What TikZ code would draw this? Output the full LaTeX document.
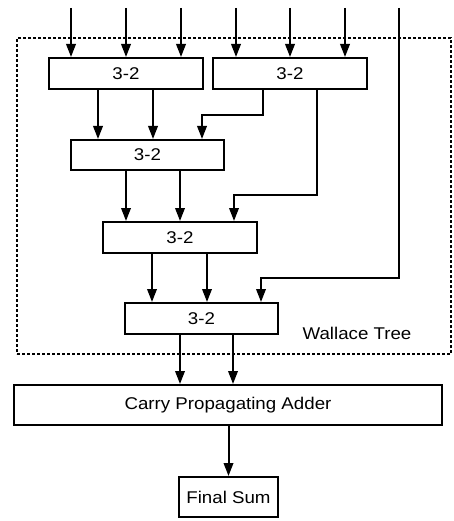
\documentclass[tikz,border=0pt]{standalone}
\usepackage{fontspec}
\setmainfont{Liberation Sans}[FakeStretch=1.1]
\usetikzlibrary{arrows.meta}
\begin{document}
\begin{tikzpicture}[x=1pt,y=-1pt,
  box/.style={draw,line width=2pt,rectangle,inner sep=0pt,font=\fontsize{17}{20}\selectfont},
  arr/.style={line width=2pt,-{Triangle[length=13pt,width=9.5pt]}},
  frame/.style={line width=1.7pt,dash pattern=on 3pt off 2pt}]
\useasboundingbox (0,0) rectangle (454,521);
% frame
\node[frame,draw,rectangle,inner sep=0pt,minimum width=434pt,minimum height=316pt] (wt) at (234,196) {};
\node[font=\fontsize{17}{20}\selectfont] (wtl) at (357,333) {Wallace Tree};
% boxes
\node[box,minimum width=154pt,minimum height=31pt] (a1) at (126,73.5) {3-2};
\node[box,minimum width=154pt,minimum height=31pt] (a2) at (290,73.5) {3-2};
\node[box,minimum width=153pt,minimum height=30pt] (b) at (147.5,155) {3-2};
\node[box,minimum width=154pt,minimum height=31pt] (c) at (180,237.5) {3-2};
\node[box,minimum width=153pt,minimum height=31pt] (d) at (201.5,318.5) {3-2};
\node[box,minimum width=428pt,minimum height=40pt] (cpa) at (228,405) {Carry Propagating Adder};
\node[box,minimum width=99pt,minimum height=40pt] (fs) at (228.5,497) {Final Sum};
% x positions
\foreach \n/\x in {i1/71,i2/126,i3/181,i4/236,i5/290,i6/345,i7/399}{\coordinate (\n) at (\x,8);}
\foreach \n/\x in {x98/98,x153/153,x263/263,x202/202,x317/317,x234/234,x126/126,x180/180,x152/152,x207/207,x261/261,x233/233}{\coordinate (\n) at (\x,0);}
\coordinate (k1) at (263,115);
\coordinate (k2) at (317,195);
\coordinate (k3) at (399,278);
% inputs
\draw[arr] (i1) -- (a1.north -| i1);
\draw[arr] (i2) -- (a1.north -| i2);
\draw[arr] (i3) -- (a1.north -| i3);
\draw[arr] (i4) -- (a2.north -| i4);
\draw[arr] (i5) -- (a2.north -| i5);
\draw[arr] (i6) -- (a2.north -| i6);
% level 1 -> 2
\draw[arr] (a1.south -| x98) -- (b.north -| x98);
\draw[arr] (a1.south -| x153) -- (b.north -| x153);
\draw[arr] (a2.south -| x263) -- (k1) -- (k1 -| x202) -- (b.north -| x202);
% level 2 -> 3
\draw[arr] (b.south -| x126) -- (c.north -| x126);
\draw[arr] (b.south -| x180) -- (c.north -| x180);
\draw[arr] (a2.south -| x317) -- (k2) -- (k2 -| x234) -- (c.north -| x234);
% level 3 -> 4
\draw[arr] (c.south -| x152) -- (d.north -| x152);
\draw[arr] (c.south -| x207) -- (d.north -| x207);
\draw[arr] (i7) -- (k3) -- (k3 -| x261) -- (d.north -| x261);
% to CPA
\draw[arr] (d.south -| x180) -- (cpa.north -| x180);
\draw[arr] (d.south -| x233) -- (cpa.north -| x233);
\draw[arr] (cpa.south -| fs.north) -- (fs.north);
\end{tikzpicture}
\end{document}
